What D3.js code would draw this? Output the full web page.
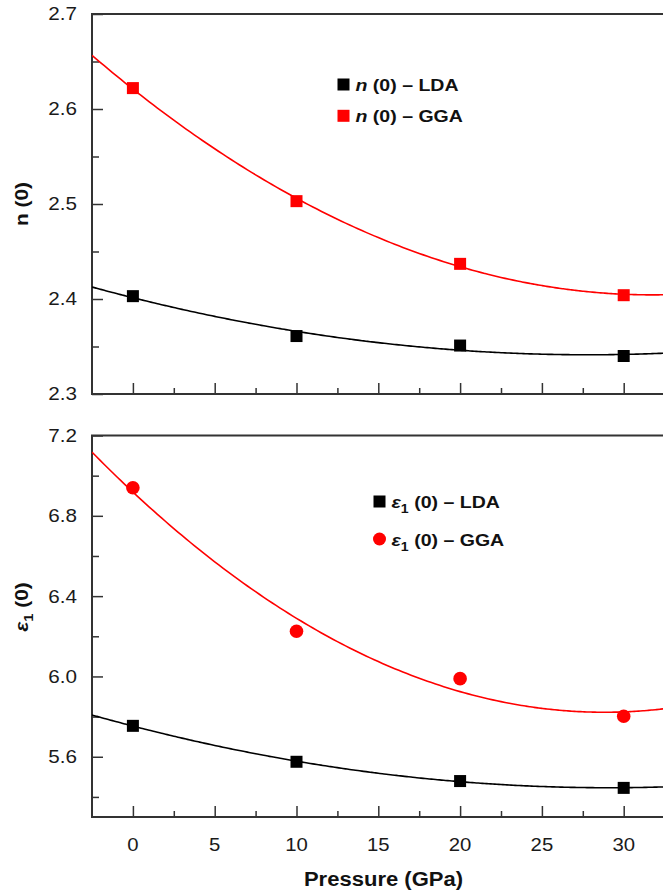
<!DOCTYPE html>
<html>
<head>
<meta charset="utf-8">
<script src="https://cdn.jsdelivr.net/npm/d3@7/dist/d3.min.js"></script>
<style>
  html, body { margin: 0; padding: 0; background: #fff; }
  svg { display: block; font-family: "Liberation Sans", Arial, sans-serif; }
</style>
</head>
<body>
<svg id="chart" width="663" height="894"></svg>
<script>
// Pressure points (GPa)
const pressure = [0, 10, 20, 30];

// Refractive index n(0)
const nLDA = [2.403, 2.361, 2.351, 2.340];
const nGGA = [2.622, 2.503, 2.437, 2.404];

// Static dielectric constant eps1(0)
const epsLDA = [5.754, 5.575, 5.479, 5.445];
const epsGGA = [6.940, 6.225, 5.989, 5.802];

const xTicks = [0, 5, 10, 15, 20, 25, 30];
const nTicks = [2.3, 2.4, 2.5, 2.6, 2.7];
const epsTicks = [5.6, 6.0, 6.4, 6.8, 7.2];

const svg = d3.select("#chart");
const axisColor = "#333";
const WIDE = 1.13;   // horizontal text stretch

const x = d3.scaleLinear().domain([-2.5, 32.5]).range([92, 664.6]);

// text helper: stretched glyphs anchored at (px, py)
function label(parent, px, py, opts) {
  const t = parent.append("text")
    .attr("transform", `translate(${px},${py})${opts.rotate ? " rotate(-90)" : ""} scale(${WIDE},1)`)
    .attr("text-anchor", opts.anchor || "start")
    .attr("font-size", opts.size || 18)
    .attr("font-weight", opts.bold ? "bold" : "normal")
    .attr("fill", opts.fill || "#1a1a1a");
  if (opts.dy) t.attr("dy", opts.dy);
  if (opts.text !== undefined) t.text(opts.text);
  return t;
}

// Least-squares quadratic trend line through the computed points
function quadFit(xs, ys) {
  const n = xs.length;
  let s = [0, 0, 0, 0, 0], t = [0, 0, 0];
  for (let i = 0; i < n; i++) {
    for (let k = 0; k <= 4; k++) s[k] += Math.pow(xs[i], k);
    for (let k = 0; k <= 2; k++) t[k] += ys[i] * Math.pow(xs[i], k);
  }
  const A = [[s[0], s[1], s[2], t[0]], [s[1], s[2], s[3], t[1]], [s[2], s[3], s[4], t[2]]];
  for (let c = 0; c < 3; c++) {
    for (let r = c + 1; r < 3; r++) {
      const f = A[r][c] / A[c][c];
      for (let k = c; k < 4; k++) A[r][k] -= f * A[c][k];
    }
  }
  const b = [0, 0, 0];
  for (let r = 2; r >= 0; r--) {
    let v = A[r][3];
    for (let k = r + 1; k < 3; k++) v -= A[r][k] * b[k];
    b[r] = v / A[r][r];
  }
  return p => b[0] + b[1] * p + b[2] * p * p;
}

function panel(cfg) {
  const y = d3.scaleLinear().domain(cfg.domain).range([cfg.bottom, cfg.top]);
  const g = svg.append("g");
  const clipId = "clip" + cfg.id;
  svg.append("clipPath").attr("id", clipId)
    .append("rect").attr("x", x.range()[0]).attr("y", cfg.top)
    .attr("width", x.range()[1] - x.range()[0]).attr("height", cfg.bottom - cfg.top);

  // y axis (ticks inward)
  const ya = g.append("g").attr("transform", `translate(${x.range()[0]},0)`)
    .call(d3.axisRight(y).tickValues(cfg.ticks).tickSize(11).tickFormat(""));
  ya.select(".domain").remove();
  ya.selectAll(".tick line").attr("stroke", axisColor).attr("stroke-width", 1.5);
  g.append("g").attr("transform", `translate(${x.range()[0]},0)`)
    .call(d3.axisRight(y).tickValues(cfg.minor).tickSize(7).tickFormat(""))
    .call(s => s.select(".domain").remove())
    .selectAll(".tick line").attr("stroke", axisColor).attr("stroke-width", 1.5);
  cfg.ticks.forEach(v => label(g, 77, y(v), { text: cfg.fmt(v), anchor: "end", dy: "0.35em", size: 18.3 }));

  // x axis (ticks inward)
  const xa = g.append("g").attr("transform", `translate(0,${cfg.bottom})`)
    .call(d3.axisTop(x).tickValues(xTicks).tickSize(11).tickFormat(""));
  xa.select(".domain").remove();
  xa.selectAll(".tick line").attr("stroke", axisColor).attr("stroke-width", 1.5);
  g.append("g").attr("transform", `translate(0,${cfg.bottom})`)
    .call(d3.axisTop(x).tickValues([2.5, 7.5, 12.5, 17.5, 22.5, 27.5, 32.5]).tickSize(6).tickFormat(""))
    .call(s => s.select(".domain").remove())
    .selectAll(".tick line").attr("stroke", axisColor).attr("stroke-width", 1.5);
  if (cfg.labels) {
    xTicks.forEach(v => label(g, x(v), cfg.bottom + 33.5, { text: String(v), anchor: "middle", size: 18 }));
  }

  // frame lines: left, bottom, top
  g.append("line").attr("x1", x.range()[0]).attr("x2", x.range()[0]).attr("y1", cfg.top).attr("y2", cfg.bottom)
    .attr("stroke", axisColor).attr("stroke-width", 2);
  g.append("line").attr("x1", x.range()[0] - 1).attr("x2", 663).attr("y1", cfg.bottom).attr("y2", cfg.bottom)
    .attr("stroke", axisColor).attr("stroke-width", 2);
  g.append("line").attr("x1", x.range()[0] - 1).attr("x2", 663).attr("y1", cfg.top).attr("y2", cfg.top)
    .attr("stroke", axisColor).attr("stroke-width", 2);

  // fitted curves
  const xs = d3.range(-2.5, 32.6, 0.25);
  const line = d3.line().x(d => x(d[0])).y(d => y(d[1])).curve(d3.curveMonotoneX);
  cfg.series.forEach(s => {
    const f = quadFit(pressure, s.values);
    g.append("path").attr("clip-path", `url(#${clipId})`)
      .attr("d", line(xs.map(p => [p, f(p)])))
      .attr("fill", "none").attr("stroke", s.color).attr("stroke-width", 1.6);
  });

  // markers
  cfg.series.forEach(s => {
    const pts = pressure.map((p, i) => [p, s.values[i]]);
    if (s.shape === "circle") {
      g.selectAll(null).data(pts).enter().append("circle")
        .attr("cx", d => x(d[0])).attr("cy", d => y(d[1])).attr("r", 6.8).attr("fill", s.color);
    } else {
      g.selectAll(null).data(pts).enter().append("rect")
        .attr("x", d => x(d[0]) - 6).attr("y", d => y(d[1]) - 6)
        .attr("width", 12).attr("height", 12).attr("fill", s.color);
    }
  });

  // legend
  cfg.series.forEach((s, i) => {
    const ly = cfg.legend.y + i * cfg.legend.dy;
    if (s.shape === "circle") {
      g.append("circle").attr("cx", cfg.legend.x).attr("cy", ly).attr("r", 6.5).attr("fill", s.color);
    } else {
      g.append("rect").attr("x", cfg.legend.x - 6).attr("y", ly - 6).attr("width", 12).attr("height", 12).attr("fill", s.color);
    }
    const t = label(g, cfg.legend.x + 12, ly + 6.5, { size: 17.3, bold: true, fill: "#111" });
    cfg.legendText(t, s.name);
  });

  // y title
  const yt = label(g, 28, cfg.titleY, { rotate: true, anchor: "middle", size: 18.5, bold: true, fill: "#111" });
  cfg.yTitle(yt);

  return y;
}

panel({
  id: 1, top: 14, bottom: 394, domain: [2.3, 2.7],
  ticks: nTicks, minor: [2.35, 2.45, 2.55, 2.65], fmt: d3.format(".1f"), labels: false,
  series: [
    { name: "LDA", values: nLDA, color: "#000", shape: "square" },
    { name: "GGA", values: nGGA, color: "#ff0000", shape: "square" }
  ],
  legend: { x: 343.5, y: 84.5, dy: 31.3 },
  legendText: (t, name) => {
    t.append("tspan").attr("font-style", "italic").text("n");
    t.append("tspan").text(" (0) \u2013 " + name);
  },
  titleY: 204,
  yTitle: t => t.text("n (0)")
});

panel({
  id: 2, top: 435.5, bottom: 817, domain: [5.3, 7.2],
  ticks: epsTicks, minor: [5.4, 5.8, 6.2, 6.6, 7.0], fmt: d3.format(".1f"), labels: true,
  series: [
    { name: "LDA", values: epsLDA, color: "#000", shape: "square" },
    { name: "GGA", values: epsGGA, color: "#ff0000", shape: "circle" }
  ],
  legend: { x: 379.5, y: 501.5, dy: 37.5 },
  legendText: (t, name) => {
    t.append("tspan").attr("font-style", "italic").text("\u03b5");
    t.append("tspan").attr("font-size", 12.5).attr("dy", 5).text("1");
    t.append("tspan").attr("dy", -5).text(" (0) \u2013 " + name);
  },
  titleY: 607,
  yTitle: t => {
    t.append("tspan").attr("font-style", "italic").text("\u03b5");
    t.append("tspan").attr("font-size", 13).attr("dy", 5).text("1");
    t.append("tspan").attr("dy", -5).text(" (0)");
  }
});

label(svg, 383.5, 886, { text: "Pressure (GPa)", anchor: "middle", size: 19.5, bold: true, fill: "#111" });
</script>
</body>
</html>
